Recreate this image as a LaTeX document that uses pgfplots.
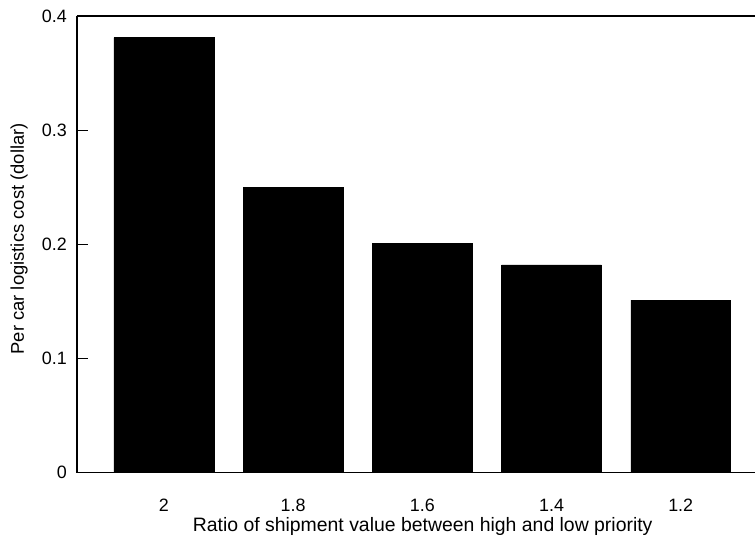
\documentclass[border=0pt]{standalone}
\usepackage{pgfplots}
\pgfplotsset{compat=1.18}
\usepackage{fontspec}
\setmainfont{Liberation Sans}
\begin{document}
\begin{tikzpicture}[x=1bp,y=1bp]
\begin{axis}[
  at={(77bp,65bp)}, anchor=south west,
  scale only axis,
  width=679bp, height=457bp,
  xmin=-0.673, xmax=4.578,
  ymin=0, ymax=0.4,
  axis x line=box, axis y line=left,
  x axis line style={-}, y axis line style={-},
  axis line style={line width=1.2bp},
  xtick={0,1,2,3,4},
  xticklabels={2,1.8,1.6,1.4,1.2},
  x tick style={draw=none},
  ytick={0,0.1,0.2,0.3,0.4},
  yticklabels={0,0.1,0.2,0.3,0.4},
  ytick pos=left,
  tick align=inside,
  major tick length=11bp,
  y tick style={line width=1.2bp, black},
  /pgf/number format/assume math mode=true,
  tick label style={font=\fontsize{18}{20}\selectfont},
  yticklabel style={anchor=east, inner sep=0pt, xshift=-10bp},
  xticklabel style={anchor=base, inner sep=0pt, yshift=-39bp},
  xlabel={Ratio of shipment value between high and low priority},
  xlabel style={font=\fontsize{19.5}{22}\selectfont, at={(axis description cs:0.5096,0)}, anchor=base, inner sep=0pt, yshift=-59bp},
  ylabel={Per car logistics cost (dollar)},
  ylabel style={font=\fontsize{18.5}{21}\selectfont, at={(axis description cs:-0.0854,0.512)}, anchor=center, inner sep=0pt},
  clip=false,
]
\addplot[ybar, bar width=0.773, fill=black, draw=black] coordinates {
  (0,0.381) (1,0.250) (2,0.201) (3,0.182) (4,0.151)
};
\end{axis}
\path (0bp,0bp) rectangle (756bp,538bp);
\end{tikzpicture}
\end{document}
